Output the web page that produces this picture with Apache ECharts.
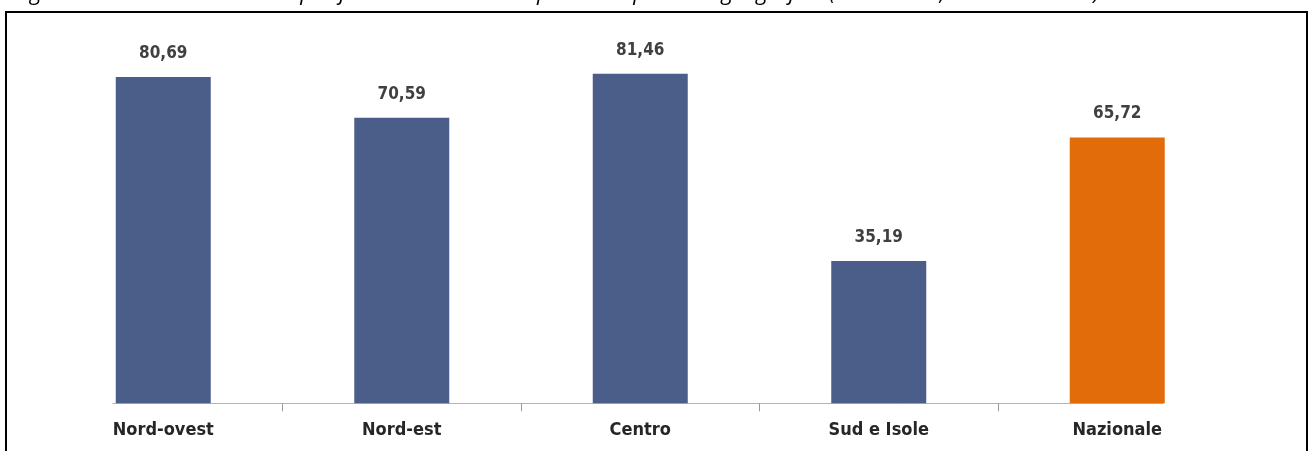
<!DOCTYPE html>
<html>
<head>
<meta charset="utf-8">
<script src="https://cdn.jsdelivr.net/npm/echarts@6/dist/echarts.min.js"></script>
<style>
html,body{margin:0;padding:0;background:#fff;}
#c{width:1310px;height:451px;}
</style>
</head>
<body>
<div id="c"></div>
<script>
const titleText = 'Figura 25 – Consumi termici specifici delle strutture ospedaliere per area geografica (2012-2013, kWh/m3 annui)';
const categories = ['Nord-ovest', 'Nord-est', 'Centro', 'Sud e Isole', 'Nazionale'];
const values = [80.69, 70.59, 81.46, 35.19, 65.72];
const barColors = ['#4B5E8A', '#4B5E8A', '#4B5E8A', '#4B5E8A', '#E36C0A'];
const tickPositions = [0.5, 1.5, 2.5, 3.5];

const chart = echarts.init(document.getElementById('c'), null, {renderer: 'canvas'});
chart.setOption({
  animation: false,
  backgroundColor: '#fff',
  title: {
    text: titleText,
    left: 14,
    top: -17,
    padding: 0,
    textStyle: {fontFamily: 'Open Sans', fontStyle: 'italic', fontWeight: 'normal', fontSize: 22, color: '#000'}
  },
  graphic: [{
    type: 'rect',
    shape: {x: 6, y: 12, width: 1301, height: 470},
    style: {fill: 'none', stroke: '#000', lineWidth: 2},
    silent: true
  }],
  grid: [
    {left: 44, width: 1192.5, top: 39.3, bottom: 47.7, containLabel: false},
    {left: 113, width: 1050, top: 39.3, bottom: 47.7, containLabel: false}
  ],
  xAxis: [{
    type: 'category',
    gridIndex: 0,
    data: categories,
    axisLine: {show: false},
    axisTick: {show: false},
    axisLabel: {fontFamily: 'DejaVu Sans Condensed', fontWeight: 'bold', fontSize: 18, color: '#262626', margin: 18}
  }, {
    type: 'value',
    gridIndex: 1,
    min: -0.5 + 69 / 238.5,
    max: 4.5 - 73.5 / 238.5,
    splitLine: {show: false},
    axisLabel: {show: false},
    axisLine: {show: true, lineStyle: {color: '#b4b4b4', width: 1}},
    axisTick: {show: true, customValues: tickPositions, length: 8, lineStyle: {color: '#999', width: 1}}
  }],
  yAxis: [{
    type: 'value',
    gridIndex: 0,
    min: 0,
    max: 90,
    show: false,
    splitLine: {show: false}
  }, {
    type: 'value',
    gridIndex: 1,
    min: 0,
    max: 90,
    show: false,
    splitLine: {show: false}
  }],
  series: [{
    type: 'bar',
    xAxisIndex: 0,
    yAxisIndex: 0,
    barWidth: 95,
    data: values.map((v, i) => ({value: v, itemStyle: {color: barColors[i]}})),
    label: {
      show: true,
      position: 'top',
      distance: 15,
      fontFamily: 'DejaVu Sans Condensed',
      fontWeight: 'bold',
      fontSize: 17,
      color: '#404040',
      formatter: p => p.value.toFixed(2).replace('.', ',')
    }
  }]
});
</script>
</body>
</html>
